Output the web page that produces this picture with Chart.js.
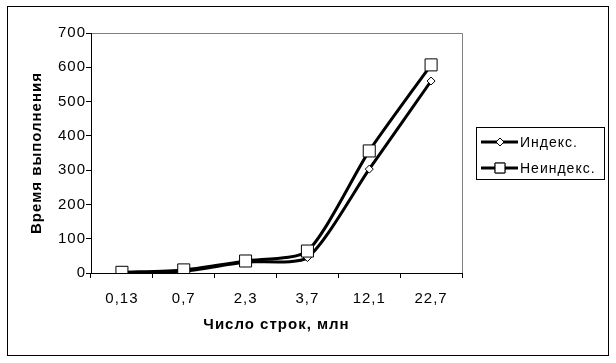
<!DOCTYPE html>
<html>
<head>
<meta charset="utf-8">
<script src="https://cdn.jsdelivr.net/npm/chart.js@4/dist/chart.umd.min.js"></script>
<style>
  html,body{margin:0;padding:0;background:#fff;}
  #wrap{width:616px;height:363px;}
</style>
</head>
<body>
<div id="wrap"><canvas id="chart" width="616" height="363"></canvas></div>
<script>
// --- données ---
const categories=["0,13","0,7","2,3","3,7","12,1","22,7"];
const indexed=[1,5,32,45,303,560];
const nonIndexed=[2,9,35,64,356,607];
const seriesNames=["Индекс.","Неиндекс."];
const yTicks=[0,100,200,300,400,500,600,700];

// texte un peu plus large (comme le rendu Excel étiré)
const spacing={
  id:'spacing',
  beforeLayout(chart){ chart.ctx.letterSpacing='1px'; },
  beforeDraw(chart){ chart.ctx.letterSpacing='1px'; }
};

// cadre extérieur + bord gris de la zone de tracé + légende
const frame={
  id:'frame',
  beforeDraw(chart){
    const ctx=chart.ctx;
    ctx.save();
    ctx.fillStyle='#fff';
    ctx.fillRect(0,0,chart.width,chart.height);
    ctx.strokeStyle='#000';
    ctx.lineWidth=1;
    ctx.strokeRect(7.5,6.5,601,349);
    const a=chart.chartArea;
    ctx.strokeStyle='#808080';
    ctx.beginPath();
    ctx.moveTo(a.left,a.top+0.5);
    ctx.lineTo(a.right+0.5,a.top+0.5);
    ctx.lineTo(a.right+0.5,a.bottom);
    ctx.stroke();
    ctx.restore();
  },
  afterDraw(chart){
    const ctx=chart.ctx;
    ctx.save();
    ctx.strokeStyle='#000';
    ctx.lineWidth=1;
    ctx.strokeRect(476.5,127.5,128,52);
    const rows=[142,168];
    const styles=['rectRot','rect'];
    const radii=[4,7];
    rows.forEach((y,i)=>{
      ctx.strokeStyle='#000';
      ctx.lineWidth=3;
      ctx.beginPath();
      ctx.moveTo(481,y);
      ctx.lineTo(518,y);
      ctx.stroke();
      ctx.fillStyle='#fff';
      ctx.lineWidth=1;
      Chart.helpers.drawPoint(ctx,{pointStyle:styles[i],radius:radii[i],borderWidth:1},500,y);
      ctx.fill();
      ctx.stroke();
      ctx.fillStyle='#000';
      ctx.font='14px Arial';
      ctx.textBaseline='middle';
      ctx.textAlign='left';
      ctx.fillText(seriesNames[i],520,y+1);
    });
    ctx.restore();
  }
};

new Chart(document.getElementById('chart').getContext('2d'),{
  type:'line',
  data:{
    labels:categories,
    datasets:[
      {label:seriesNames[0],data:indexed,order:1,borderColor:'#000',borderWidth:3,tension:0.22,
       pointStyle:'rectRot',pointRadius:4,pointBackgroundColor:'#fff',pointBorderColor:'#000',pointBorderWidth:1},
      {label:seriesNames[1],data:nonIndexed,order:0,borderColor:'#000',borderWidth:3,tension:0.22,
       pointStyle:'rect',pointRadius:8.5,pointBackgroundColor:'#fff',pointBorderColor:'#000',pointBorderWidth:1}
    ]
  },
  options:{
    responsive:false,
    animation:false,
    layout:{padding:{left:8,right:154,top:33,bottom:8}},
    plugins:{legend:{display:false},tooltip:{enabled:false}},
    scales:{
      x:{
        offset:true,
        grid:{offset:true,drawOnChartArea:false,tickLength:5,color:'#000'},
        border:{color:'#000',width:1},
        ticks:{color:'#000',font:{family:'Arial',size:15},padding:12,maxRotation:0},
        title:{display:true,text:'Число строк, млн',color:'#000',font:{family:'Arial',size:15,weight:'bold'},padding:{bottom:21}},
        afterFit(s){ s.height=82; }
      },
      y:{
        min:yTicks[0],max:yTicks[yTicks.length-1],
        afterBuildTicks(s){ s.ticks=yTicks.map(v=>({value:v})); },
        grid:{drawOnChartArea:false,tickLength:5,color:'#000'},
        border:{color:'#000',width:1},
        ticks:{color:'#000',font:{family:'Arial',size:15},padding:0},
        title:{display:true,text:'Время выполнения',color:'#000',font:{family:'Arial',size:15,weight:'bold'},padding:{top:20}},
        afterFit(s){ s.width=83; }
      }
    }
  },
  plugins:[spacing,frame]
});
</script>
</body>
</html>
